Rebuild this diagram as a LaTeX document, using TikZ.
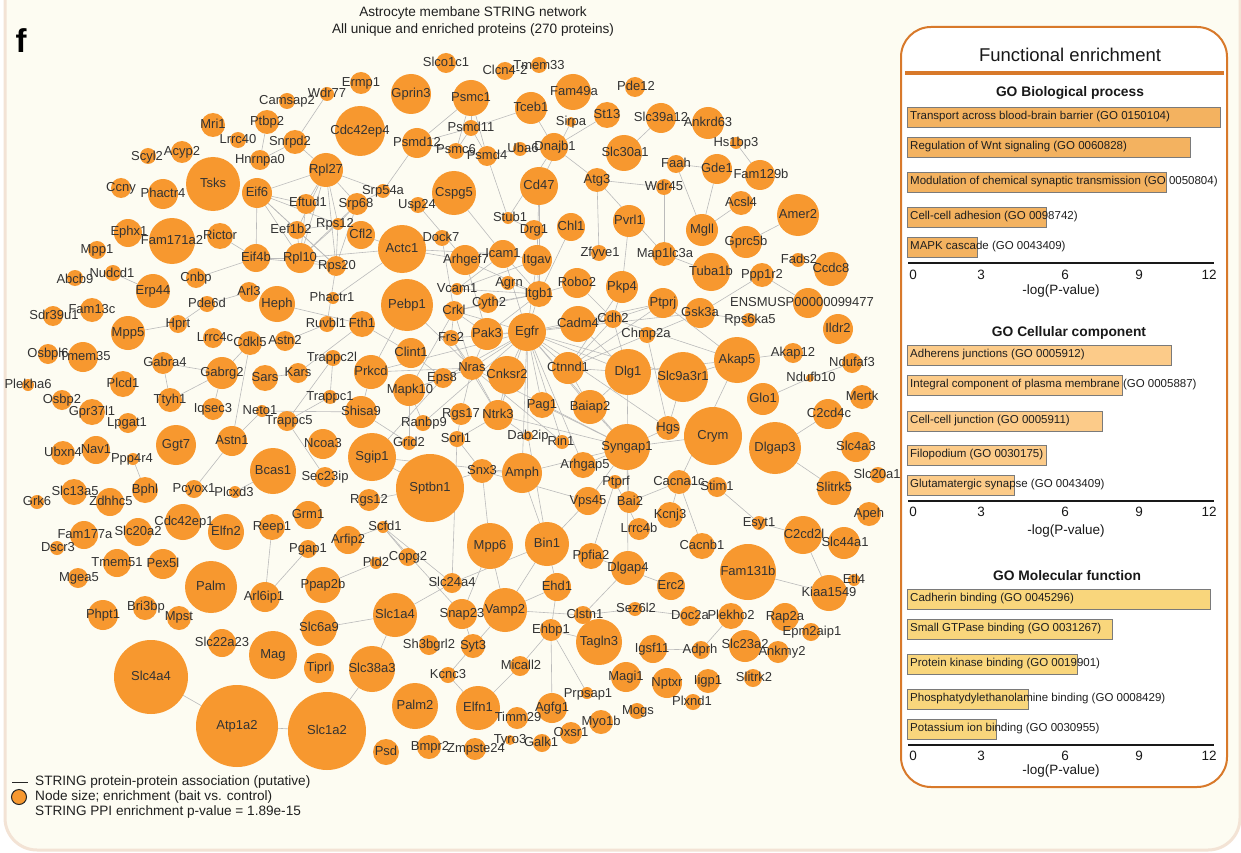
\documentclass[tikz,border=0pt]{standalone}
\usepackage{fontspec}
\setmainfont{Liberation Sans}
\pgfdeclarelayer{bg}
\pgfdeclarelayer{edgelayer}
\pgfsetlayers{bg,edgelayer,main}
\definecolor{bgcream}{HTML}{FDFCF2}
\definecolor{bgedge}{HTML}{F3E3D5}
\definecolor{nodeor}{HTML}{F7982F}
\definecolor{edgegray}{HTML}{BBBBBB}
\definecolor{txt}{HTML}{333333}
\definecolor{panelor}{HTML}{D8792A}
\definecolor{bpbar}{HTML}{F3B260}
\definecolor{ccbar}{HTML}{FCCB89}
\definecolor{mfbar}{HTML}{F9D67C}
\definecolor{bargray}{HTML}{7A7A7A}
\tikzset{
  pnode/.style={circle, fill=nodeor, draw=none, inner sep=0pt, outer sep=0pt},
  plabel/.style={inner sep=0pt, text=txt, font=\fontsize{13}{13}\selectfont, text height=9.4pt, text depth=2.6pt},
  edge/.style={draw=edgegray, line width=0.6pt},
  bar/.style={draw=bargray, line width=0.8pt},
  barlabel/.style={anchor=west, inner sep=0pt, text=black!88, font=\fontsize{11.5}{11.5}\selectfont, text height=8.3pt, text depth=2.4pt},
  ticklabel/.style={inner sep=0pt, text=black!90, font=\fontsize{13.5}{13.5}\selectfont, text height=9.7pt, text depth=2.8pt},
  sectitle/.style={inner sep=0pt, text=black!90, font=\bfseries\fontsize{13.8}{13.8}\selectfont},
  plain/.style={inner sep=0pt, text=black!88, font=\fontsize{13.6}{13.6}\selectfont, text height=9.8pt, text depth=2.8pt},
  axisline/.style={draw=black!90, line width=1.2pt}
}
\makeatletter
% labels are collected and set after all circles, so they lie on top
\newcommand\protlabels{}
% protein node with label placed at (lx,ly)
\newcommand\po[7]{%
  \node[pnode, minimum size=2*#4] (#1) at (#2,#3) {};
  \g@addto@macro\protlabels{\node[plabel] (#1l) at (#6,#7) {#5};}}
\makeatother
% protein node with centred label
\newcommand\pc[4]{\po{#1}{#2}{#3}{#4}{#1}{#2}{#3}}
% enrichment bar: name, colour, top, right end, text
\newcommand\gobar[5]{%
  \filldraw[bar, fill=#2] (907,#3) rectangle (#4,#3+20);
  \node[barlabel] (#1) at (910,#3+10) {#5};}
% axis with ticks: name, axis y, tick y, label y, label x
\newcommand\goaxis[5]{%
  \coordinate (#1s) at (908,#2); \coordinate (#1e) at (1214,#2);
  \draw[axisline] (#1s) -- (#1e);
  \node[ticklabel] (#1t0) at (913,#3) {0};
  \node[ticklabel] (#1t3) at (981,#3) {3};
  \node[ticklabel] (#1t6) at (1065,#3) {6};
  \node[ticklabel] (#1t9) at (1139,#3) {9};
  \node[ticklabel] (#1t12) at (1209,#3) {12};
  \node[ticklabel] (#1x) at (#5,#4) {-log(P-value)};}

\begin{document}
\begin{tikzpicture}[x=1pt,y=-1pt]
\useasboundingbox (0,0) rectangle (1241,853);
\begin{pgfonlayer}{bg}
  \fill[white] (0,0) rectangle (1241,853);
  \filldraw[draw=bgedge, fill=bgcream, line width=3pt, rounded corners=32pt] (5,-60) rectangle (1240,850);
  \filldraw[draw=panelor, fill=white, line width=2pt, rounded corners=30pt] (901,27) rectangle (1227,787);
\end{pgfonlayer}

% ---------- titles ----------
\node[inner sep=0pt, font=\bfseries\fontsize{33}{33}\selectfont] (flabel) at (21,41) {f};
\node[plain] (title1) at (473,13) {Astrocyte membane STRING network};
\node[plain] (title2) at (473,30) {All unique and enriched proteins (270 proteins)};

% ---------- proteins ----------
\pc{Camsap2}{287}{101}{8}
\pc{Wdr77}{327}{94}{7}
\pc{Ermp1}{361}{83}{11}
\pc{Mri1}{213}{125}{12}
\pc{Ptbp2}{267}{122}{12}
\pc{Lrrc40}{238}{140}{8}
\po{Snrpd2}{295}{142}{12}{Snrpd2}{290}{142}
\pc{Hnrnpa0}{260}{160}{10}
\po{Scyl2}{148}{156}{8}{Scyl2}{147}{157}
\pc{Acyp2}{182}{152}{11}
\pc{Tsks}{213}{184}{27}
\pc{Ccny}{121}{188}{10}
\pc{Phactr4}{163}{194}{15}
\pc{Eif6}{257}{193}{15}
\po{Eftud1}{306}{204}{10}{Eftud1}{308}{203}
\po{Ephx1}{128}{233}{14}{Ephx1}{129}{232}
\pc{Fam171a2}{172}{241}{23}
\pc{Rictor}{220}{236}{13}
\po{Eef1b2}{297}{230}{9}{Eef1b2}{291}{230}
\pc{Mpp1}{97}{250}{9}
\pc{Eif4b}{256}{258}{14}
\pc{Rpl10}{300}{258}{15}
\po{Abcb9}{75}{278}{8}{Abcb9}{75}{280}
\po{Nudcd1}{113}{273}{8}{Nudcd1}{112}{274}
\pc{Cnbp}{196}{278}{10}
\pc{Erp44}{153}{291}{17}
\pc{Arl3}{249}{292}{10}
\pc{Heph}{277}{304}{18}
\pc{Pde6d}{207}{304}{8}
\pc{Fam13c}{92}{310}{12}
\po{Sdr39u1}{53}{316}{10}{Sdr39u1}{54}{316}
\pc{Mpp5}{128}{333}{17}
\pc{Hprt}{178}{324}{9}
\po{Lrrc4c}{213}{338}{10}{Lrrc4c}{215}{338}
\pc{Cdkl5}{250}{343}{12}
\pc{Astn2}{285}{341}{10}
\pc{Osbpl6}{48}{354}{10}
\po{Tmem35}{83}{357}{15}{Tmem35}{85}{357}
\po{Gabra4}{163}{363}{11}{Gabra4}{165}{363}
\pc{Gabrg2}{222}{373}{16}
\pc{Sars}{265}{378}{13}
\pc{Kars}{298}{373}{10}
\pc{Plekha6}{28}{385}{6}
\pc{Plcd1}{123}{384}{13}
\pc{Osbp2}{62}{400}{10}
\pc{Gpr37l1}{92}{412}{13}
\pc{Ttyh1}{170}{400}{12}
\pc{Iqsec3}{213}{409}{11}
\po{Neto1}{262}{411}{6}{Neto1}{260}{411}
\po{Trappc5}{287}{421}{10}{Trappc5}{289}{421}
\po{Lpgat1}{128}{423}{10}{Lpgat1}{127}{423}
\pc{Ggt7}{176}{445}{20}
\pc{Astn1}{232}{441}{15}
\pc{Ubxn4}{63}{453}{12}
\pc{Nav1}{96}{450}{14}
\po{Ppp4r4}{133}{459}{6}{Ppp4r4}{132}{459}
\pc{Bcas1}{273}{471}{23}
\pc{Grk6}{37}{502}{7}
\po{Slc13a5}{74}{492}{13}{Slc13a5}{75}{492}
\po{Zdhhc5}{110}{502}{14}{Zdhhc5}{111}{502}
\pc{Bphl}{145}{490}{13}
\pc{Pcyox1}{194}{489}{9}
\po{Plcxd3}{235}{492}{6}{Plcxd3}{234}{493}
\po{Cdc42ep1}{183}{522}{18}{Cdc42ep1}{184}{522}
\pc{Elfn2}{226}{532}{18}
\pc{Reep1}{272}{527}{13}
\pc{Grm1}{308}{515}{14}
\po{Fam177a}{84}{535}{14}{Fam177a}{85}{535}
\pc{Slc20a2}{138}{532}{14}
\po{Dscr3}{57}{548}{7}{Dscr3}{58}{548}
\pc{Tmem51}{117}{563}{14}
\pc{Pex5l}{163}{564}{15}
\po{Mgea5}{78}{578}{10}{Mgea5}{79}{578}
\pc{Palm}{211}{587}{26}
\po{Arl6ip1}{265}{597}{15}{Arl6ip1}{264}{597}
\pc{Phpt1}{103}{615}{15}
\po{Bri3bp}{145}{608}{12}{Bri3bp}{146}{607}
\po{Mpst}{179}{618}{12}{Mpst}{179}{617}
\pc{Slc22a23}{222}{643}{14}
\pc{Mag}{273}{655}{24}
\pc{Slc4a4}{151}{677}{37}
\pc{Atp1a2}{237}{726}{41}
\pc{Slc1a2}{327}{731}{39}

\po{Rps20}{336}{266}{10}{Rps20}{337}{266}
\po{Phactr1}{333}{298}{6}{Phactr1}{332}{298}
\pc{Pebp1}{407}{305}{26}
\po{Ruvbl1}{327}{324}{8}{Ruvbl1}{326}{324}
\pc{Fth1}{362}{324}{13}
\po{Trappc2l}{333}{358}{8}{Trappc2l}{332}{358}
\pc{Prkcd}{371}{372}{17}
\pc{Clint1}{411}{353}{15}
\pc{Trappc1}{330}{397}{7}
\pc{Shisa9}{361}{412}{16}
\po{Mapk10}{409}{390}{16}{Mapk10}{410}{390}
\pc{Ncoa3}{323}{444}{15}
\pc{Sec23ip}{325}{477}{10}
\pc{Sgip1}{372}{457}{24}
\pc{Grid2}{409}{443}{7}
\pc{Rgs12}{369}{500}{11}
\pc{Sptbn1}{430}{488}{34}
\po{Scfd1}{383}{527}{6}{Scfd1}{385}{527}
\pc{Vcam1}{457}{289}{6}
\po{Agrn}{508}{283}{7}{Agrn}{509}{283}
\pc{Crkl}{454}{311}{10}
\po{Cyth2}{488}{303}{10}{Cyth2}{489}{303}
\pc{Itgb1}{539}{294}{13}
\pc{Robo2}{577}{283}{15}
\pc{Pak3}{487}{334}{16}
\pc{Egfr}{527}{332}{19}
\pc{Frs2}{451}{338}{8}
\pc{Cadm4}{578}{324}{18}
\pc{Nras}{472}{368}{12}
\pc{Cnksr2}{507}{375}{19}
\pc{Ctnnd1}{568}{368}{16}
\po{Eps8}{443}{378}{10}{Eps8}{442}{378}
\pc{Pag1}{542}{405}{13}
\pc{Baiap2}{590}{407}{17}
\po{Ranbp9}{423}{423}{8}{Ranbp9}{424}{423}
\pc{Rgs17}{461}{414}{11}
\pc{Ntrk3}{498}{415}{15}
\po{Sorl1}{457}{439}{8}{Sorl1}{456}{439}
\pc{Dab2ip}{528}{436}{5}
\po{Rin1}{562}{442}{7}{Rin1}{561}{442}
\pc{Snx3}{482}{471}{12}
\pc{Amph}{522}{473}{20}
\po{Arhgap5}{583}{465}{13}{Arhgap5}{585}{465}
\pc{Vps45}{588}{501}{14}

\pc{Gprin3}{411}{94}{20}
\pc{Slco1c1}{446}{63}{10}
\po{Clcn42}{505}{71}{9}{Clcn4-2}{505}{71}
\po{Tmem33}{539}{65}{8}{Tmem33}{539}{66}
\pc{Psmc1}{471}{98}{18}
\po{Fam49a}{573}{92}{18}{Fam49a}{574}{92}
\pc{Cdc42ep4}{360}{131}{25}
\pc{Tceb1}{531}{108}{16}
\pc{Psmd11}{471}{128}{8}
\pc{Sirpa}{571}{122}{5}
\pc{Psmd12}{417}{143}{15}
\po{Psmc6}{456}{151}{8}{Psmc6}{456}{150}
\pc{Psmd4}{487}{156}{10}
\po{Uba6}{520}{149}{7}{Uba6}{523}{149}
\po{Dnajb1}{554}{147}{14}{Dnajb1}{555}{147}
\pc{Rpl27}{326}{170}{17}
\pc{Srp54a}{383}{191}{7}
\po{Srp68}{357}{204}{11}{Srp68}{356}{204}
\pc{Cspg5}{454}{193}{22}
\pc{Cd47}{539}{186}{19}
\pc{Atg3}{597}{180}{12}
\po{Usp24}{418}{205}{8}{Usp24}{417}{205}
\po{Rps12}{338}{224}{6}{Rps12}{335}{224}
\pc{Cfl2}{361}{235}{14}
\po{Stub1}{508}{218}{6}{Stub1}{510}{218}
\pc{Drg1}{534}{230}{10}
\pc{Chl1}{571}{227}{14}
\po{Zfyve1}{599}{253}{8}{Zfyve1}{600}{253}
\pc{Actc1}{402}{249}{24}
\po{Dock7}{442}{238}{8}{Dock7}{441}{238}
\po{Arhgef7}{465}{260}{15}{Arhgef7}{466}{260}
\pc{Icam1}{503}{254}{14}
\pc{Itgav}{537}{260}{15}

\po{Pde12}{635}{87}{10}{Pde12}{636}{87}
\pc{St13}{607}{115}{13}
\pc{Slc39a12}{661}{118}{15}
\pc{Ankrd63}{708}{123}{16}
\pc{Hs1bp3}{736}{143}{6}
\po{Slc30a1}{624}{153}{18}{Slc30a1}{625}{153}
\pc{Faah}{676}{164}{9}
\pc{Gde1}{717}{169}{15}
\po{Fam129b}{760}{175}{15}{Fam129b}{761}{175}
\pc{Wdr45}{664}{187}{8}
\pc{Acsl4}{741}{203}{12}
\pc{Amer2}{798}{215}{21}
\pc{Pvrl1}{629}{221}{16}
\pc{Mgll}{702}{230}{16}
\pc{Gprc5b}{746}{242}{16}
\po{Map1lc3a}{664}{254}{12}{Map1lc3a}{665}{254}
\po{Fads2}{798}{260}{7}{Fads2}{799}{260}
\pc{Ccdc8}{831}{269}{17}
\pc{Tuba1b}{711}{272}{19}
\pc{Ppp1r2}{762}{275}{12}

\pc{Pkp4}{622}{287}{16}
\pc{Ptprj}{663}{303}{15}
\pc{Gsk3a}{700}{313}{15}
\po{Ensmusp}{808}{303}{15}{ENSMUSP00000099477}{802}{303}
\po{Rps6ka5}{749}{320}{7}{Rps6ka5}{750}{320}
\pc{Cdh2}{613}{319}{9}
\po{Chmp2a}{647}{335}{8}{Chmp2a}{646}{334}
\pc{Ildr2}{838}{329}{15}
\pc{Akap5}{737}{360}{23}
\pc{Akap12}{793}{353}{10}
\pc{Ndufaf3}{852}{363}{10}
\pc{Dlg1}{628}{372}{23}
\pc{Slc9a3r1}{683}{377}{25}
\po{Ndufb10}{810}{378}{4}{Ndufb10}{811}{378}
\pc{Glo1}{763}{399}{16}
\pc{Mertk}{862}{397}{12}
\po{C2cd4c}{828}{414}{15}{C2cd4c}{829}{414}
\pc{Hgs}{668}{428}{12}
\pc{Crym}{713}{436}{29}
\pc{Dlgap3}{775}{448}{26}
\pc{Syngap1}{627}{447}{23}
\pc{Slc4a3}{856}{447}{15}
\po{Slc20a1}{878}{475}{8}{Slc20a1}{877}{475}
\pc{Cacna1c}{679}{482}{12}
\pc{Stim1}{717}{487}{10}
\pc{Slitrk5}{834}{488}{17}
\po{Ptprf}{615}{482}{7}{Ptprf}{616}{482}
\po{Bai2}{629}{502}{11}{Bai2}{630}{502}
\pc{Kcnj3}{670}{515}{13}
\pc{Esyt1}{759}{523}{7}
\pc{Apeh}{869}{514}{12}
\pc{Lrrc4b}{639}{529}{11}
\po{C2cd2l}{803}{535}{19}{C2cd2l}{804}{535}
\po{Slc44a1}{844}{543}{16}{Slc44a1}{845}{543}

\pc{Cacnb1}{702}{546}{13}
\pc{Ppfia2}{591}{556}{13}
\pc{Dlgap4}{628}{568}{17}
\pc{Erc2}{671}{586}{14}
\pc{Fam131b}{748}{572}{28}
\pc{Etl4}{854}{580}{6}
\pc{Kiaa1549}{829}{593}{18}
\po{Sez6l2}{635}{609}{7}{Sez6l2}{636}{609}
\pc{Doc2a}{690}{616}{10}
\pc{Plekho2}{731}{616}{13}
\pc{Rap2a}{785}{617}{14}
\po{Epm2aip1}{811}{632}{9}{Epm2aip1}{812}{632}
\pc{Tagln3}{599}{642}{23}
\po{Igsf11}{653}{649}{14}{Igsf11}{652}{649}
\po{Adprh}{701}{650}{9}{Adprh}{700}{650}
\po{Slc23a2}{745}{646}{16}{Slc23a2}{745}{645}
\po{Ankmy2}{778}{652}{11}{Ankmy2}{782}{652}
\pc{Magi1}{626}{677}{15}
\pc{Nptxr}{667}{683}{15}
\pc{Iigp1}{708}{681}{12}
\po{Slitrk2}{753}{678}{9}{Slitrk2}{754}{678}
\po{Plxnd1}{693}{702}{8}{Plxnd1}{692}{702}
\po{Mogs}{637}{711}{8}{Mogs}{638}{711}
\pc{Myo1b}{601}{722}{12}
\po{Prpsap1}{587}{693}{6}{Prpsap1}{588}{694}

\pc{Arfip2}{348}{540}{14}
\pc{Pgap1}{308}{549}{9}
\pc{Mpp6}{490}{546}{23}
\pc{Bin1}{547}{544}{22}
\pc{Pld2}{376}{563}{6}
\pc{Copg2}{408}{557}{9}
\pc{Ppap2b}{323}{585}{18}
\pc{Slc24a4}{452}{583}{10}
\pc{Ehd1}{557}{587}{14}
\pc{Slc1a4}{395}{615}{22}
\pc{Slc6a9}{319}{628}{18}
\pc{Snap23}{462}{614}{15}
\pc{Vamp2}{505}{610}{22}
\po{Clstn1}{583}{615}{9}{Clstn1}{585}{615}
\pc{Ehbp1}{551}{630}{11}
\pc{Sh3bgrl2}{429}{645}{10}
\pc{Syt3}{473}{646}{12}
\pc{Tiprl}{319}{668}{15}
\pc{Slc38a3}{372}{669}{23}
\pc{Kcnc3}{448}{675}{8}
\po{Micall2}{520}{666}{10}{Micall2}{521}{666}
\pc{Palm2}{415}{706}{23}
\pc{Elfn1}{478}{708}{22}
\po{Timm29}{517}{718}{11}{Timm29}{518}{718}
\pc{Agfg1}{552}{708}{15}
\pc{Oxsr1}{571}{733}{11}
\pc{Psd}{386}{752}{13}
\po{Bmpr2}{429}{747}{12}{Bmpr2}{430}{747}
\po{Zmpste24}{475}{749}{11}{Zmpste24}{476}{749}
\pc{Tyro3}{510}{740}{5}
\po{Galk1}{542}{743}{9}{Galk1}{541}{743}

% labels on top of all circles
\protlabels

% ---------- associations ----------
\begin{pgfonlayer}{edgelayer}
\foreach \a/\b in {Wdr77/Snrpd2, Ptbp2/Hnrnpa0, Snrpd2/Hnrnpa0, Snrpd2/Rpl27, Eif6/Rpl27, Eif6/Eftud1,
  Eif6/Eef1b2, Eif6/Rpl10, Eif6/Eif4b, Eif6/Rps12, Eif6/Rps20, Rictor/Eif4b, Eif4b/Rpl10, Eif4b/Cnbp,
  Eef1b2/Rpl10, Eftud1/Rpl10, Eftud1/Rpl27, Rpl27/Eef1b2, Rpl27/Rps12, Rpl27/Rpl10, Rpl27/Rps20,
  Rpl27/Srp54a, Rpl27/Srp68, Srp54a/Srp68, Srp68/Rps20, Srp68/Rpl10, Rps12/Rpl10, Rps12/Rps20,
  Rps20/Rpl10, Rps12/Eef1b2, Eef1b2/Rps20, Rps12/Srp68, Cfl2/Actc1, Rpl10/Actc1, Rps20/Ruvbl1,
  Phactr1/Actc1, Srp54a/Psmd12, Eif4b/Rps20,
  Psmc1/Psmd11, Psmc1/Psmd12, Psmc1/Psmc6, Psmc1/Psmd4, Psmd11/Psmd12, Psmd11/Psmc6, Psmd11/Psmd4,
  Psmd12/Psmc6, Psmd12/Psmd4, Psmc6/Psmd4, Psmd4/Uba6, Psmd11/Tceb1, Psmd4/Stub1, Stub1/Dnajb1,
  Dnajb1/St13, Dnajb1/Atg3, Tceb1/Dnajb1, Uba6/Dnajb1, Sirpa/Cd47, Cd47/Itgav, Cd47/Itgb1,
  Usp24/Arhgef7, Cspg5/Icam1, Dock7/Crkl, Actc1/Arhgef7, Actc1/Icam1, Chl1/Itgb1, Zfyve1/Atg3,
  Atg3/Wdr45, Atg3/Map1lc3a, Wdr45/Map1lc3a, Faah/Gde1, Faah/Mgll, Gde1/Mgll, Mgll/Acsl4,
  Hs1bp3/Fam129b, Gprc5b/Amer2, Slc39a12/Slc30a1, Map1lc3a/Tuba1b, Pvrl1/Pkp4, Ppp1r2/Gsk3a,
  Ppp1r2/Ensmusp, Gsk3a/Rps6ka5, Stub1/Drg1,
  Gsk3a/Ctnnd1, Gsk3a/Egfr, Ptprj/Egfr, Ptprj/Cdh2, Ptprj/Ctnnd1, Pkp4/Cdh2, Pkp4/Ctnnd1,
  Chmp2a/Hgs, Cdh2/Akap5, Dlg1/Akap5, Ptprj/Akap5, Akap5/Akap12, Akap5/Slc9a3r1, Akap5/Cacna1c,
  Ndufb10/Ndufaf3, Glo1/Ndufb10, Dlgap3/C2cd4c, Dlgap3/Slitrk5, Crym/Syngap1, Syngap1/Hgs,
  Syngap1/Dlg1, Syngap1/Bai2, Syngap1/Baiap2, Syngap1/Arhgap5, Syngap1/Dlgap4, Syngap1/Vps45,
  Cacna1c/Kcnj3, Cacna1c/Bai2, Cacna1c/Cacnb1, Cacna1c/Stim1, Stim1/Esyt1, Esyt1/C2cd2l,
  C2cd2l/Kiaa1549, Fam131b/Kiaa1549, Ppfia2/Erc2, Ptprf/Ppfia2, Lrrc4b/Ptprf, Clstn1/Sez6l2,
  Sez6l2/Doc2a, Dlgap4/Clstn1, Plekho2/Adprh, Adprh/Igsf11,
  Pgap1/Arl6ip1, Reep1/Arl6ip1, Copg2/Scfd1, Arfip2/Scfd1, Pld2/Ppap2b, Scfd1/Slc24a4,
  Scfd1/Snap23, Slc1a4/Slc6a9, Slc1a4/Slc38a3, Slc1a4/Slc24a4, Slc38a3/Slc1a2, Slc1a2/Atp1a2,
  Slc4a4/Atp1a2, Snap23/Vamp2, Snap23/Syt3, Vamp2/Syt3, Syt3/Kcnc3, Kcnc3/Elfn1, Vamp2/Bin1,
  Vamp2/Ehd1, Vamp2/Clstn1, Vamp2/Mpp6, Slc24a4/Bin1, Ehbp1/Ehd1, Ehbp1/Micall2, Ehbp1/Agfg1,
  Ehbp1/Prpsap1, Ehbp1/Tagln3, Micall2/Elfn1, Ehd1/Bin1, Bin1/Amph, Sorl1/Slc24a4, Snap23/Mpp6,
  Gabra4/Gabrg2, Gabrg2/Ttyh1, Gabrg2/Iqsec3, Gabrg2/Cdkl5, Cdkl5/Astn1, Gabra4/Ttyh1, Hprt/Pde6d,
  Pde6d/Arl3, Mpp5/Hprt, Erp44/Nudcd1, Heph/Fth1, Kars/Sars, Kars/Fth1, Neto1/Shisa9, Astn1/Neto1,
  Trappc5/Trappc1, Trappc5/Trappc2l, Trappc1/Trappc2l, Trappc5/Sec23ip, Pcyox1/Astn1, Plcxd3/Bcas1,
  Ppp4r4/Bphl, Astn2/Ruvbl1,
  Prkcd/Nras, Prkcd/Egfr, Prkcd/Pebp1, Pebp1/Nras, Fth1/Clint1, Clint1/Eps8, Mapk10/Nras,
  Mapk10/Eps8, Mapk10/Crkl, Eps8/Nras, Eps8/Egfr, Nras/Pak3, Nras/Egfr, Nras/Frs2, Nras/Crkl,
  Nras/Cnksr2, Nras/Ntrk3, Nras/Rin1, Nras/Rgs17, Nras/Syngap1, Egfr/Pak3, Egfr/Itgb1, Egfr/Cnksr2,
  Egfr/Ctnnd1, Egfr/Frs2, Egfr/Crkl, Egfr/Ntrk3, Egfr/Pag1, Egfr/Hgs, Egfr/Cdh2, Egfr/Dlg1,
  Egfr/Icam1, Egfr/Itgav, Egfr/Syngap1, Egfr/Baiap2, Egfr/Arhgap5, Egfr/Rin1, Egfr/Amph,
  Egfr/Dab2ip, Egfr/Slc9a3r1, Crkl/Pak3, Crkl/Frs2, Crkl/Itgb1, Crkl/Cyth2, Itgb1/Icam1,
  Itgb1/Itgav, Itgb1/Vcam1, Itgb1/Cyth2, Itgb1/Agrn, Itgb1/Pak3, Itgav/Icam1, Itgav/Vcam1,
  Icam1/Vcam1, Arhgef7/Pak3, Arhgef7/Itgb1, Cdh2/Ctnnd1, Cdh2/Cadm4, Cdh2/Dlg1, Ctnnd1/Baiap2,
  Ctnnd1/Dlg1, Cnksr2/Ntrk3, Ntrk3/Frs2, Ntrk3/Syngap1, Ntrk3/Sorl1, Ntrk3/Dab2ip, Rgs17/Sorl1,
  Amph/Snx3, Amph/Syngap1, Amph/Sgip1, Snx3/Sorl1, Snx3/Vps45, Sptbn1/Snx3, Sptbn1/Rgs12,
  Sptbn1/Sgip1, Baiap2/Dlg1, Hgs/Slc9a3r1, Sgip1/Eps8, Shisa9/Grid2, Grid2/Mapk10, Ranbp9/Mapk10,
  Ranbp9/Egfr, Mpp6/Snx3, Bin1/Dab2ip, Robo2/Itgb1, Robo2/Cdh2, Cadm4/Dlg1, Vps45/Bin1,
  Pag1/Syngap1, Shisa9/Prkcd}
  \draw[edge] (\a) -- (\b);
\end{pgfonlayer}

% ---------- legend ----------
\coordinate (legA) at (12,782);
\coordinate (legB) at (28,782);
\draw[black!85, line width=0.9pt] (legA) -- (legB);
\node[circle, fill=nodeor, draw=black!85, line width=1pt, minimum size=15pt, inner sep=0pt] (legdot) at (19,797) {};
\node[plain, anchor=west] (leg1) at (35,782) {STRING protein-protein association (putative)};
\node[plain, anchor=west] (leg2) at (35,797) {Node size; enrichment (bait vs. control)};
\node[plain, anchor=west] (leg3) at (35,812) {STRING PPI enrichment p-value = 1.89e-15};

% ---------- enrichment panel ----------
\node[inner sep=0pt, text=black!90, font=\fontsize{18.5}{18.5}\selectfont] (ptitle) at (1070,55) {Functional enrichment};
\coordinate (sepA) at (905,73);
\coordinate (sepB) at (1224,73);
\draw[panelor, line width=3.5pt] (sepA) -- (sepB);

\node[sectitle] (bptitle) at (1070,93) {GO Biological process};
\gobar{bp1}{bpbar}{107}{1220}{Transport across blood-brain barrier (GO 0150104)}
\gobar{bp2}{bpbar}{137}{1190}{Regulation of Wnt signaling (GO 0060828)}
\gobar{bp3}{bpbar}{172}{1166}{Modulation of chemical synaptic transmission (GO 0050804)}
\gobar{bp4}{bpbar}{207}{1046}{Cell-cell adhesion (GO 0098742)}
\gobar{bp5}{bpbar}{237}{977}{MAPK cascade (GO 0043409)}
\goaxis{bpax}{263}{276}{291}{1061}

\node[sectitle] (cctitle) at (1069,333) {GO Cellular component};
\gobar{cc1}{ccbar}{345}{1171}{Adherens junctions (GO 0005912)}
\gobar{cc2}{ccbar}{375}{1122}{Integral component of plasma membrane (GO 0005887)}
\gobar{cc3}{ccbar}{411}{1102}{Cell-cell junction (GO 0005911)}
\gobar{cc4}{ccbar}{445}{1046}{Filopodium (GO 0030175)}
\gobar{cc5}{ccbar}{475}{1014}{Glutamatergic synapse (GO 0043409)}
\goaxis{ccax}{501}{513}{531}{1066}

\node[sectitle] (mftitle) at (1067,576) {GO Molecular function};
\gobar{mf1}{mfbar}{589}{1210}{Cadherin binding (GO 0045296)}
\gobar{mf2}{mfbar}{619}{1112}{Small GTPase binding (GO 0031267)}
\gobar{mf3}{mfbar}{654}{1077}{Protein kinase binding (GO 0019901)}
\gobar{mf4}{mfbar}{689}{1028}{Phosphatydylethanolamine binding (GO 0008429)}
\gobar{mf5}{mfbar}{719}{996}{Potassium ion binding (GO 0030955)}
\goaxis{mfax}{745}{757}{771}{1061}
\end{tikzpicture}
\end{document}
